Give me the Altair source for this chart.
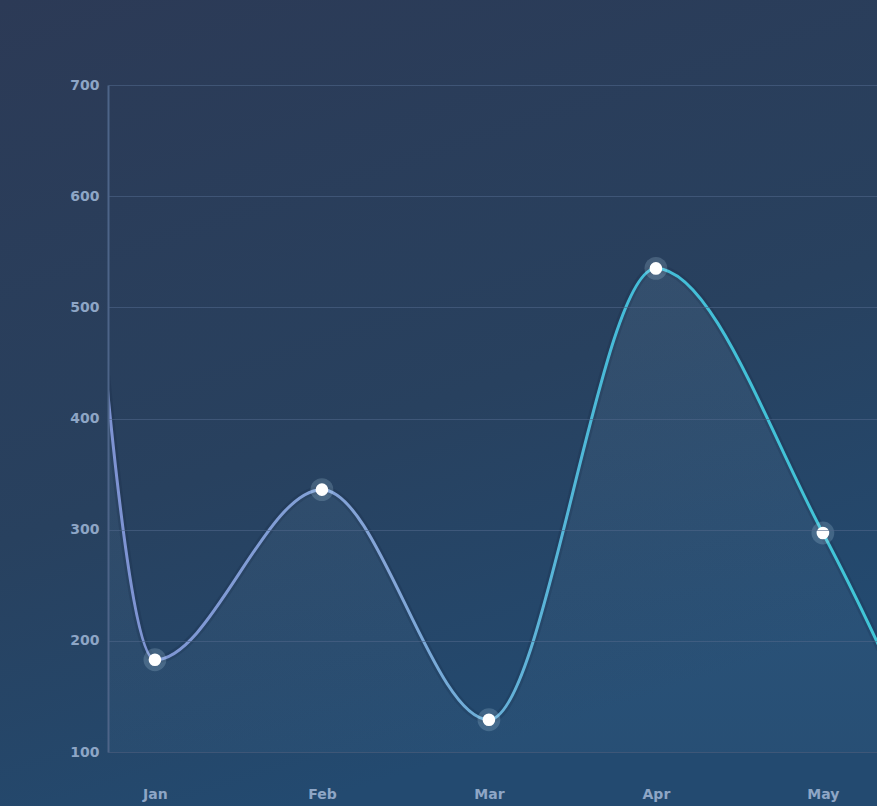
import altair as alt
import pandas as pd

months = ["Jan", "Feb", "Mar", "Apr", "May"]
values = [183, 336, 129, 535, 297]
# off-screen neighbours that shape the curve at the clipped edges
lead_index, lead_value = -0.5, 800
tail_index, tail_value = 5, -30
y_ticks = [100, 200, 300, 400, 500, 600, 700]

idx = [lead_index] + list(range(len(months))) + [tail_index]
vals = [lead_value] + values + [tail_value]
line_df = pd.DataFrame({"i": idx, "v": vals})
pts_df = pd.DataFrame({"i": list(range(len(months))), "v": values, "m": months})

label_expr = "[" + ",".join(f"'{m}'" for m in months) + "][datum.value]"

xs = alt.Scale(domain=[-0.281, 4.324], nice=False, zero=False)
ys = alt.Scale(domain=[100, 700], nice=False, zero=False)

x_enc = alt.X("i:Q", scale=xs, axis=alt.Axis(values=list(range(len(months))), labelExpr=label_expr,
              grid=False, ticks=False, domain=True, domainColor="#3f5675", domainOpacity=0.7,
              labelColor="#8ea6c6", labelFontSize=14, labelFontWeight="bold", labelPadding=35,
              title=None, labelFont="DejaVu Sans", zindex=1))
y_enc = alt.Y("v:Q", scale=ys, axis=alt.Axis(values=y_ticks, grid=True, gridColor="#4f6689",
              gridOpacity=0.6, ticks=False, domain=True, domainColor="#4d6488", domainWidth=2,
              labelColor="#8ea6c6", labelFontSize=14, labelFontWeight="bold", labelPadding=9,
              title=None, labelFont="DejaVu Sans", zindex=1))

bg = alt.Chart(pd.DataFrame({"a": [0]})).mark_rect(
    clip=False,
    fill=alt.Gradient(gradient="linear", x1=0, y1=0, x2=0.35, y2=1,
                      stops=[alt.GradientStop(offset=0, color="#2c3a56"),
                             alt.GradientStop(offset=0.6, color="#28415f"),
                             alt.GradientStop(offset=1, color="#234a70")])
).encode(x=alt.value(-108), x2=alt.value(769), y=alt.value(-85), y2=alt.value(721))

base = alt.Chart(line_df)

area = base.mark_area(
    interpolate="monotone", clip=True,
    fill=alt.Gradient(gradient="linear", x1=0, y1=0, x2=0, y2=1,
                      stops=[alt.GradientStop(offset=0, color="rgba(140,190,225,0.16)"),
                             alt.GradientStop(offset=1, color="rgba(140,190,225,0.02)")])
).encode(x=x_enc, y=y_enc, y2=alt.datum(100))

glow = base.mark_line(interpolate="monotone", clip=True, strokeWidth=8, opacity=0.15,
                      color="#0d1a33").encode(x=x_enc, y=y_enc)

line = base.mark_line(
    interpolate="monotone", clip=True, strokeWidth=3,
    stroke=alt.Gradient(gradient="linear", x1=0, y1=0, x2=1, y2=0,
                        stops=[alt.GradientStop(offset=0, color="#7d90d2"),
                               alt.GradientStop(offset=0.35, color="#84a6d8"),
                               alt.GradientStop(offset=0.6, color="#45bcd8"),
                               alt.GradientStop(offset=1, color="#3fcad6")])
).encode(x=x_enc, y=y_enc)

halo = alt.Chart(pts_df).mark_circle(size=520, color="#cfefff", opacity=0.18).encode(x=x_enc, y=y_enc)
dots = alt.Chart(pts_df).mark_circle(size=160, color="#ffffff", opacity=1).encode(x=x_enc, y=y_enc)

chart = alt.layer(bg, area, glow, line, halo, dots).properties(
    width=769, height=667,
    padding={"left": 108, "top": 85, "right": 0, "bottom": 54},
    autosize=alt.AutoSizeParams(type="none"),
    background="#2a3a55",
).configure_view(stroke=None)

chart.save("out.html", embed_options={"renderer": "svg", "actions": False})
